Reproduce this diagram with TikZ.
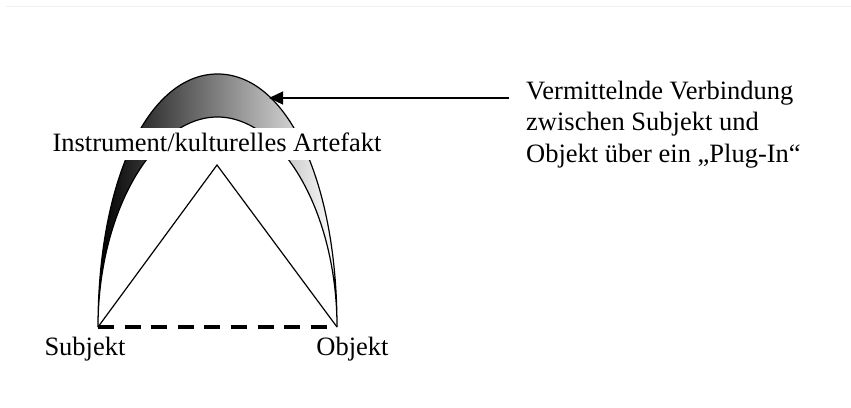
\documentclass[tikz,border=0pt]{standalone}
\usepackage{fontspec}
\setmainfont{Liberation Serif}
\usetikzlibrary{arrows.meta}
\begin{document}
\begin{tikzpicture}[x=1pt,y=-1pt,
  lbl/.style={font=\fontsize{26.5}{33}\selectfont, inner sep=0pt},
  notetext/.style={font=\fontsize{26.5}{31.5}\selectfont, inner sep=0pt, align=left},
  edge/.style={line width=1.2pt, draw=black},
  baseline/.style={line width=3.6pt, dash pattern=on 16pt off 10.6pt},
  pointer/.style={line width=1.2pt, -{Triangle[length=14pt,width=13pt]}},
  band/.style={left color=black, middle color=black!32, right color=white, draw=black, line width=1.2pt}]
\useasboundingbox (0,0) rectangle (851,407);
\draw[black!6, line width=1pt] (6,6) -- (851,6);
\coordinate (S) at (98,327);
\coordinate (O) at (337,327);
\coordinate (A) at (217,165);
\coordinate (tip) at (269,98);
% mediating arch (band between two half ellipses)
\shade[band] (S) .. controls (98,180.3) and (148.2,74) .. (217.5,74)
   .. controls (286.8,74) and (337,180.3) .. (O)
   .. controls (337,213.6) and (282,117) .. (217.5,117)
   .. controls (153,117) and (98,213.6) .. (S) -- cycle;
% label over the arch
\node[lbl, fill=white, text height=23.5pt, text depth=9pt, inner xsep=2pt, anchor=base] (I) at (217,151) {Instrument/kulturelles Artefakt};
% triangle
\draw[edge, line join=miter] (S) -- (A) -- (O);
\draw[baseline] (S) -- (O);
% vertex labels
\node[lbl, anchor=base] (Sl) at (85,355) {Subjekt};
\node[lbl, anchor=base] (Ol) at (352.5,355) {Objekt};
% note
\node[notetext, anchor=north west] (note) at (526,80.9) {Vermittelnde Verbindung\\zwischen Subjekt und\\Objekt über ein „Plug-In“};
\draw[pointer] ([xshift=-17pt,yshift=-17.1pt]note.north west) -- (tip);
\end{tikzpicture}
\end{document}
